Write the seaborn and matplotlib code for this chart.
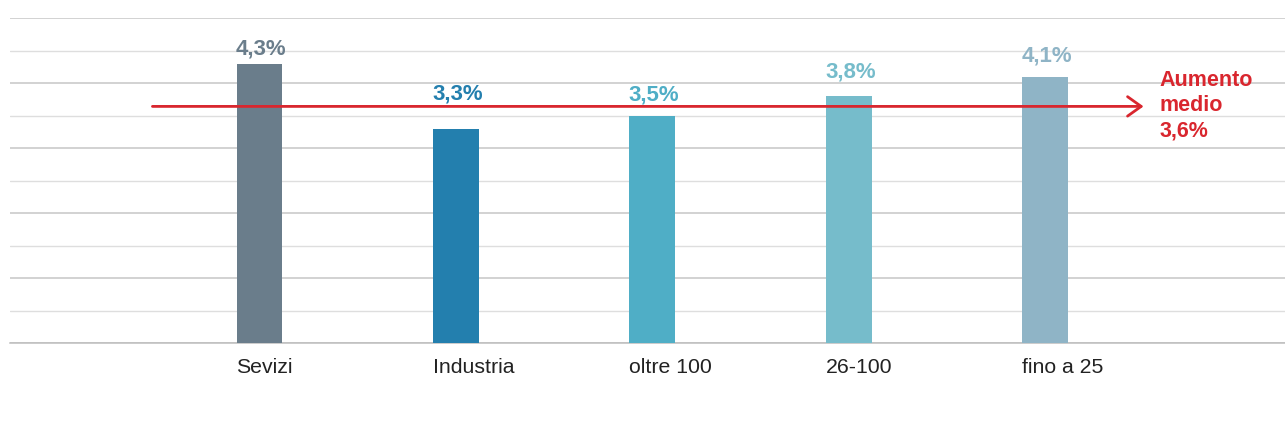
import matplotlib
matplotlib.use("Agg")
import matplotlib.pyplot as plt
import seaborn as sns
import pandas as pd
from matplotlib.ticker import MultipleLocator

categories = ["Sevizi", "Industria", "oltre 100", "26-100", "fino a 25"]
values = [4.3, 3.3, 3.5, 3.8, 4.1]
value_labels = ["4,3%", "3,3%", "3,5%", "3,8%", "4,1%"]
colors = ["#6a7d8b", "#237fae", "#4faec6", "#76bccb", "#8fb4c6"]
average = 3.64
average_label = "Aumento\nmedio\n3,6%"
red = "#d9262e"

# label gaps above bar tops (in points, styling only)
label_gaps = [3, 17, 7, 9.5, 7]
bar_width = 0.234

sns.set_theme(style="white")
plt.rcParams["font.family"] = ["Liberation Sans", "DejaVu Sans"]

df = pd.DataFrame({"cat": categories, "val": values})

fig = plt.figure(figsize=(12.85, 4.38), dpi=100)
ax = fig.add_axes([10 / 1285, (438 - 343) / 438, 1 - 10 / 1285, (343 - 18) / 438])

sns.barplot(data=df, x="cat", y="val", hue="cat", palette=colors, width=bar_width,
            legend=False, ax=ax, saturation=1, zorder=3, linewidth=0)

ax.set_xlim(-1.27, 5.22)
ax.set_ylim(0, 5)
ax.yaxis.set_major_locator(MultipleLocator(1))
ax.yaxis.set_minor_locator(MultipleLocator(0.5))
ax.grid(axis="y", which="major", color="#c6c6c6", linewidth=1.1, zorder=0)
ax.grid(axis="y", which="minor", color="#dedede", linewidth=1.0, zorder=0)
ax.set_axisbelow(True)
for s in ["top", "right", "left"]:
    ax.spines[s].set_visible(False)
ax.spines["bottom"].set_color("#bdbdbd")
ax.spines["bottom"].set_linewidth(1.1)
ax.set_yticklabels([])
ax.tick_params(axis="y", which="both", length=0)

ax.set_xticks([i - bar_width / 2 for i in range(len(categories))])
ax.set_xticklabels(categories, ha="left")
ax.tick_params(axis="x", length=0, labelsize=15.3, labelcolor="#222222", pad=11)
ax.set_xlabel("")
ax.set_ylabel("")

for i, (v, lab, c, g) in enumerate(zip(values, value_labels, colors, label_gaps)):
    ax.annotate(lab, (i - bar_width / 2, v), xytext=(-0.5, g), textcoords="offset points",
                ha="left", va="bottom", fontsize=16, fontweight="bold", color=c, zorder=6)

ax.annotate("", xy=(4.50, average), xytext=(-0.545, average),
            arrowprops=dict(arrowstyle="->,head_length=0.7,head_width=0.5",
                            color=red, lw=2, mutation_scale=14, shrinkA=0, shrinkB=0),
            zorder=5)
ax.text(4.58, average + 0.01, average_label, ha="left", va="center", fontsize=15.5,
        fontweight="bold", color=red, linespacing=1.28)

fig.savefig("out.png", dpi=100)
